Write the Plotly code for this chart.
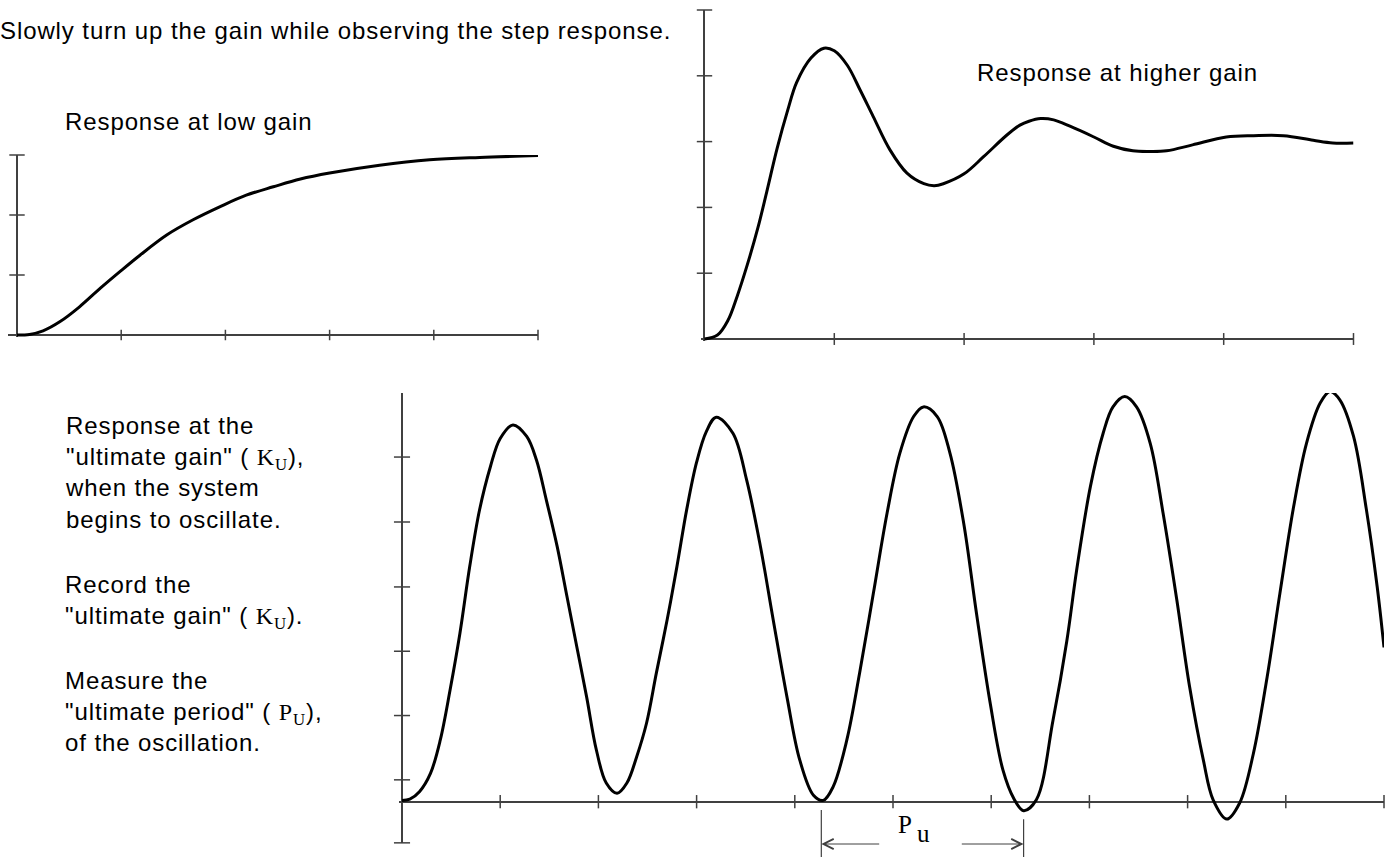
import plotly.graph_objects as go

W, H = 1395, 857
AX = "#404040"
SANS = "Liberation Sans, Arial, sans-serif"
SERIF = "Liberation Serif, Times New Roman, serif"

# step response at low gain (x and y in tick intervals)
low_t = [0, 0.12, 0.25, 0.41, 0.6, 0.8, 0.99, 1.18, 1.44, 1.69, 1.95, 2.2, 2.46, 2.72, 3.0, 3.48, 3.96, 4.44, 5.0]
low_y = [0, 0.01, 0.07, 0.22, 0.47, 0.78, 1.06, 1.33, 1.67, 1.92, 2.14, 2.33, 2.47, 2.6, 2.7, 2.83, 2.92, 2.96, 2.99]
low_xticks = [1, 2, 3, 4, 5]
low_yticks = [1, 2, 3]

# step response at higher gain
high_t = [0, 0.1, 0.18, 0.25, 0.33, 0.41, 0.48, 0.56, 0.64, 0.71, 0.82, 0.92, 1.0, 1.1, 1.2, 1.3,
          1.43, 1.56, 1.69, 1.77, 1.84, 2.0, 2.15, 2.33, 2.43, 2.5, 2.59, 2.69, 2.82, 3.0, 3.15,
          3.3, 3.43, 3.56, 3.76, 4.02, 4.23, 4.46, 4.69, 4.84, 5.0]
high_y = [0, 0.06, 0.28, 0.64, 1.13, 1.68, 2.24, 2.9, 3.47, 3.9, 4.27, 4.42, 4.38, 4.16, 3.78, 3.38,
          2.87, 2.52, 2.36, 2.33, 2.36, 2.51, 2.77, 3.1, 3.25, 3.31, 3.35, 3.33, 3.23, 3.07, 2.93,
          2.86, 2.85, 2.86, 2.95, 3.07, 3.09, 3.09, 3.02, 2.98, 2.98]
high_xticks = [1, 2, 3, 4, 5]
high_yticks = [1, 2, 3, 4, 5]

# response at the ultimate gain (sustained oscillation)
ult_t = [0, 0.08, 0.18, 0.29, 0.39, 0.49, 0.59, 0.69, 0.79, 0.9, 1.0, 1.13, 1.27, 1.37, 1.47, 1.58,
         1.68, 1.78, 1.88, 1.98, 2.08, 2.19, 2.29, 2.39, 2.49, 2.59, 2.7, 2.8, 2.9, 3.0, 3.1, 3.2,
         3.37, 3.51, 3.65, 3.78, 3.92, 4.05, 4.19, 4.29, 4.39, 4.53, 4.66, 4.8, 4.94, 5.07, 5.21,
         5.31, 5.45, 5.58, 5.72, 5.85, 5.99, 6.12, 6.23, 6.33, 6.46, 6.63, 6.77, 6.87, 7.01, 7.14,
         7.24, 7.36, 7.48, 7.62, 7.75, 7.89, 8.02, 8.16, 8.26, 8.4, 8.53, 8.67, 8.81, 8.94, 9.08,
         9.21, 9.35, 9.45, 9.55, 9.69, 9.82, 9.93, 10.0]
ult_y = [0.02, 0.04, 0.16, 0.44, 0.96, 1.74, 2.62, 3.66, 4.54, 5.21, 5.65, 5.86, 5.68, 5.31, 4.69, 3.97,
         3.19, 2.41, 1.63, 0.8, 0.29, 0.13, 0.29, 0.7, 1.22, 2.0, 2.83, 3.66, 4.55, 5.28, 5.76, 5.98,
         5.73, 5.0, 3.97, 2.83, 1.63, 0.65, 0.1, 0.02, 0.23, 0.96, 2.0, 3.24, 4.49, 5.42, 5.99,
         6.14, 5.99, 5.42, 4.33, 2.93, 1.53, 0.49, 0.05, -0.14, 0.03, 1.27, 2.5, 3.6, 4.9, 5.73,
         6.14, 6.3, 6.14, 5.57, 4.49, 3.14, 1.79, 0.65, 0.03, -0.27, -0.02, 0.75, 1.94, 3.24, 4.59,
         5.57, 6.2, 6.38, 6.25, 5.68, 4.55, 3.35, 2.4]
ult_xticks = [1, 2, 3, 4, 5, 6, 7, 8, 9, 10]
ult_yticks = [-0.64, 0.34, 1.34, 2.34, 3.34, 4.35, 5.36, 6.36]

# the two troughs used to measure the ultimate period
pu_marks = [4.27, 6.33]
pu_arrow_tails = [4.89, 5.67]


def xp(px):
    return px / W


def yp(py):
    return 1 - py / H


# panel geometry: origin in pixels, pixels per unit, axis ranges
panels = [
    dict(ox=17, oy=335, sx=104.2, sy=60, xr=[-0.09, 5.0], yr=[-0.04, 3.0], tx=7.5, ty=11,
         t=low_t, y=low_y, xt=low_xticks, yt=low_yticks),
    dict(ox=704.5, oy=339, sx=129.8, sy=65.8, xr=[-0.03, 5.0], yr=[-0.03, 5.0], tx=8.5, ty=11,
         t=high_t, y=high_y, xt=high_xticks, yt=high_yticks),
    dict(ox=402, oy=801.7, sx=98.2, sy=64.3, xr=[-0.03, 10.0], yr=[-0.642, 6.356], tx=9.5, ty=11.5,
         t=ult_t, y=ult_y, xt=ult_xticks, yt=ult_yticks),
]

fig = go.Figure()
layout = {}
for i, p in enumerate(panels, start=1):
    sfx = "" if i == 1 else str(i)
    xa, ya = "x" + sfx, "y" + sfx
    dx = [xp(p["ox"] + p["xr"][0] * p["sx"]), xp(p["ox"] + p["xr"][1] * p["sx"])]
    dy = [yp(p["oy"] - p["yr"][0] * p["sy"]), yp(p["oy"] - p["yr"][1] * p["sy"])]
    common = dict(showgrid=False, showticklabels=False, ticks="", showline=False,
                  zeroline=True, zerolinecolor=AX, zerolinewidth=1.5, fixedrange=True)
    layout["xaxis" + sfx] = dict(domain=dx, range=p["xr"], anchor=ya, **common)
    layout["yaxis" + sfx] = dict(domain=dy, range=p["yr"], anchor=xa, **common)

    fig.add_trace(go.Scatter(x=p["t"], y=p["y"], xaxis=xa, yaxis=ya, mode="lines",
                             line=dict(color="black", width=3, shape="spline", smoothing=1.0),
                             hoverinfo="skip"))
    fig.add_trace(go.Scatter(x=p["xt"], y=[0] * len(p["xt"]), xaxis=xa, yaxis=ya, mode="markers",
                             marker=dict(symbol="line-ns", size=p["tx"], line=dict(color=AX, width=1.5)),
                             cliponaxis=False, hoverinfo="skip"))
    fig.add_trace(go.Scatter(x=[0] * len(p["yt"]), y=p["yt"], xaxis=xa, yaxis=ya, mode="markers",
                             marker=dict(symbol="line-ew", size=p["ty"], line=dict(color=AX, width=1.5)),
                             cliponaxis=False, hoverinfo="skip"))


def spaced(s):
    return '<span style="letter-spacing:0.9px">' + s + "</span>"


def sub_sym(letter):
    return '<span style="font-family:Liberation Serif">' + letter + "<sub>U</sub></span>"


def note(lines, px, ptop, size=24, family=SANS):
    fig.add_annotation(text="<br>".join(spaced(l) for l in lines), x=xp(px - 2), y=yp(ptop),
                       xref="paper", yref="paper", xanchor="left", yanchor="top", align="left",
                       showarrow=False, font=dict(family=family, size=size, color="black"))


note(["Slowly turn up the gain while observing the step response."], 0, 15)
note(["Response at low gain"], 65, 105.6)
note(["Response at higher gain"], 977, 57.3)
note(["Response at the", '"ultimate gain" ( ' + sub_sym("K") + "),", "when the system",
      "begins to oscillate."], 65, 409.6)
note(["Record the", '"ultimate gain" ( ' + sub_sym("K") + ")."], 65, 569)
note(["Measure the", '"ultimate period" ( ' + sub_sym("P") + "),", "of the oscillation."], 65, 664.6)

# P_u period marker below the oscillation
for x_mark, top in zip(pu_marks, [810, 819.3]):
    fig.add_shape(type="line", xref="x3", yref="paper", x0=x_mark, x1=x_mark, y0=0, y1=yp(top),
                  line=dict(color=AX, width=1.2))
for x_mark, tail in zip(pu_marks, pu_arrow_tails):
    fig.add_annotation(x=x_mark, y=yp(844), xref="x3", yref="paper", ax=tail, ay=0,
                       axref="x3", ayref="pixel", text=" ", showarrow=True, arrowhead=5,
                       arrowsize=2, arrowwidth=1, arrowcolor=AX)
fig.add_annotation(text="P", x=xp(905), y=yp(833.3 - 8.5), xref="paper", yref="paper",
                   xanchor="center", yanchor="middle", showarrow=False,
                   font=dict(family=SERIF, size=25, color="black"))
fig.add_annotation(text="u", x=xp(923.3), y=yp(841.7 - 8.5), xref="paper", yref="paper",
                   xanchor="center", yanchor="middle", showarrow=False,
                   font=dict(family=SERIF, size=25, color="black"))

fig.update_layout(width=W, height=H, margin=dict(l=0, r=0, t=0, b=0), showlegend=False,
                  paper_bgcolor="white", plot_bgcolor="white", hovermode=False, **layout)

# drop the browser's default page margin so the figure sits at the window's corner
fig.write_html("out.html", config={"displayModeBar": False},
               post_script="document.body.style.margin = '0px';")
